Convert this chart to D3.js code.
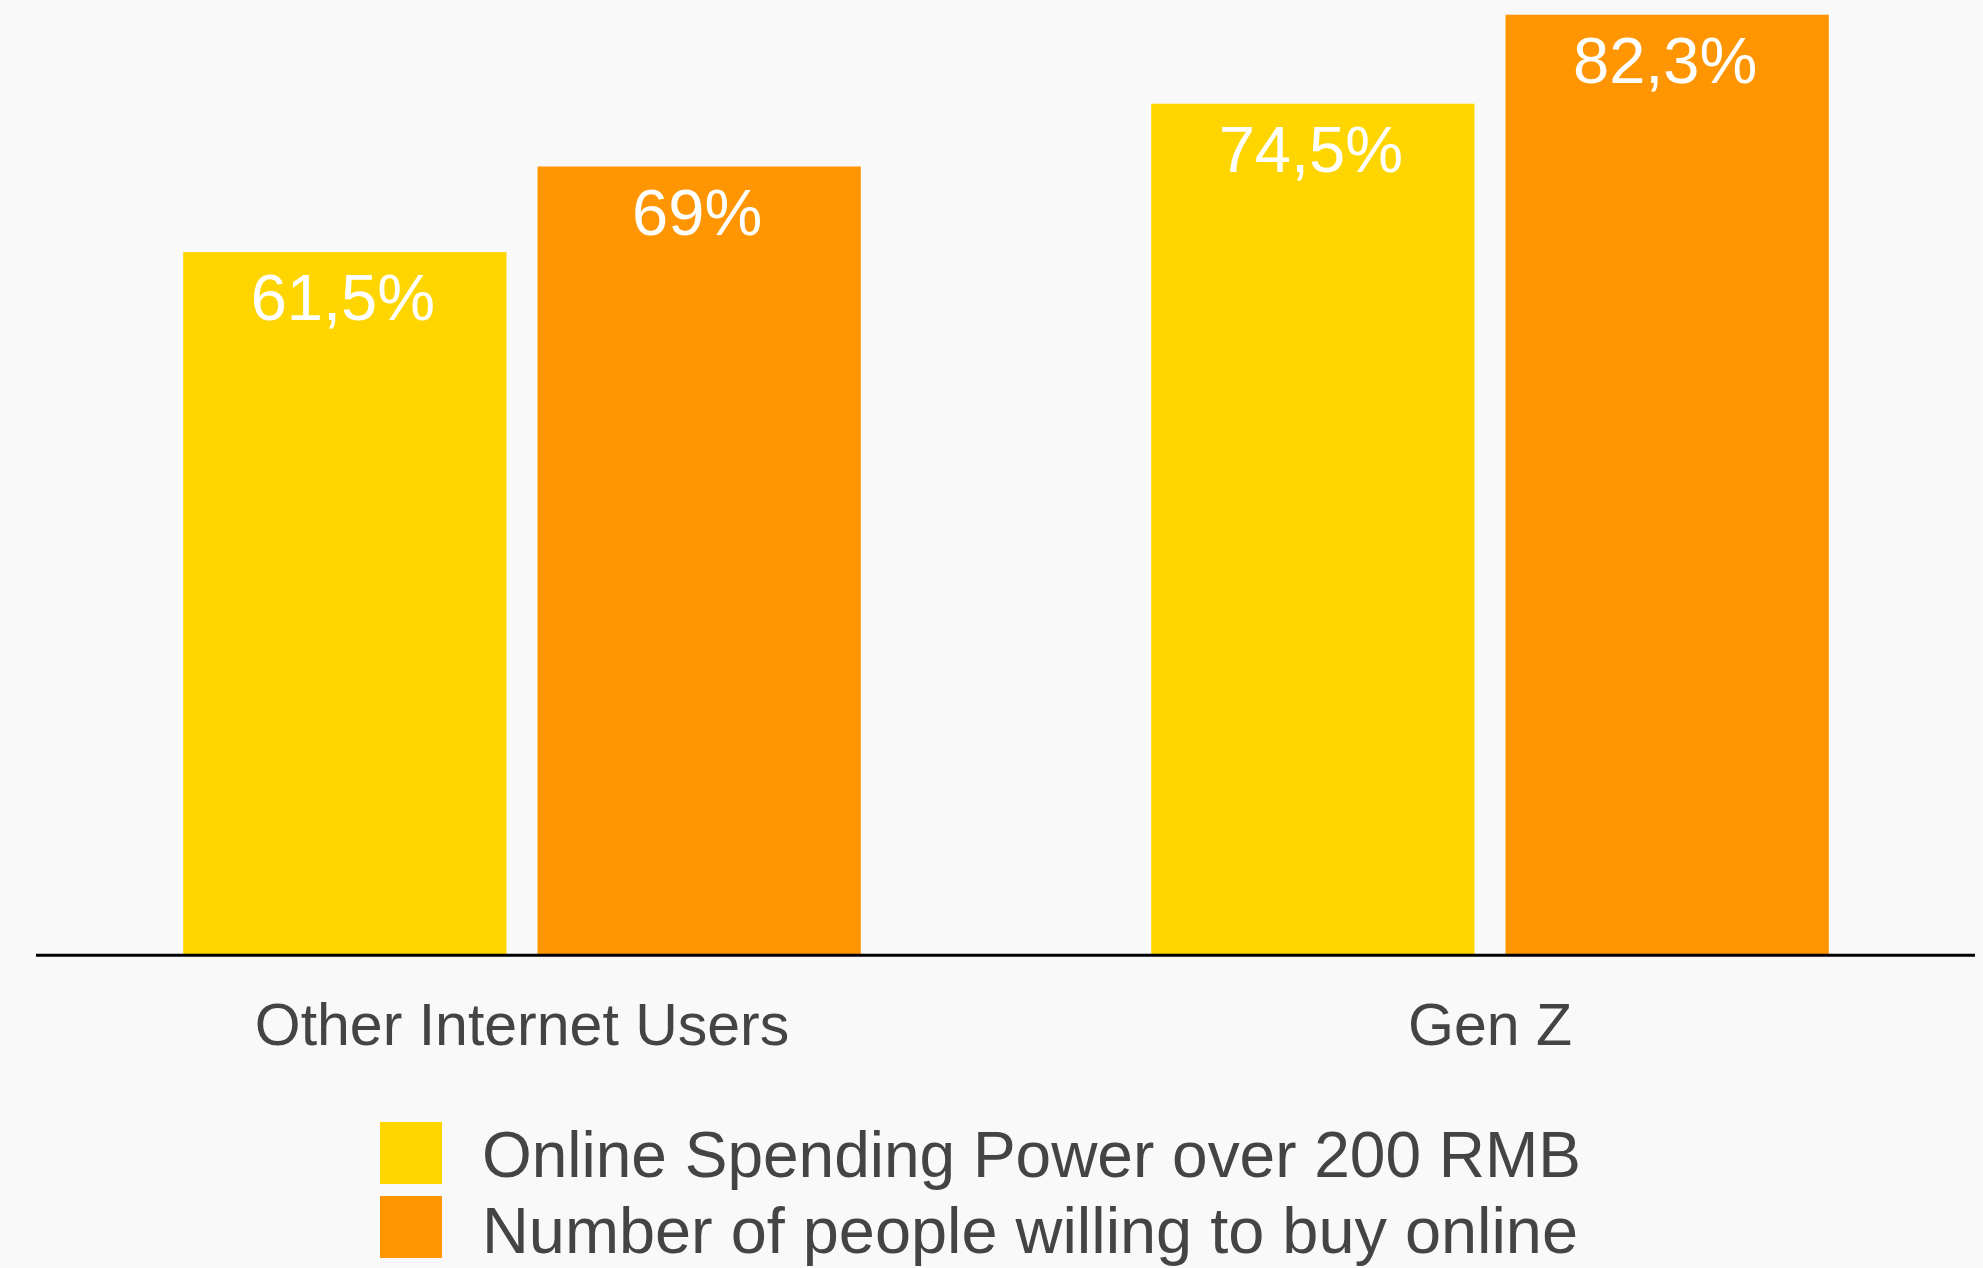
<!DOCTYPE html>
<html>
<head>
<meta charset="utf-8">
<script src="https://cdn.jsdelivr.net/npm/d3@7/dist/d3.min.js"></script>
<style>
  html, body { margin: 0; padding: 0; background: #f9f9f9; }
  svg { display: block; }
</style>
</head>
<body>
<script>
const categories = ["Other Internet Users", "Gen Z"];
const seriesNames = ["Online Spending Power over 200 RMB", "Number of people willing to buy online"];
const spendingPower = [61.5, 74.5];
const willingToBuy = [69, 82.3];
const valueLabels = [["61,5%", "74,5%"], ["69%", "82,3%"]];
const seriesColors = ["#FFD500", "#FF9500"];

const W = 1983, H = 1268;
const svg = d3.select("body").append("svg").attr("width", W).attr("height", H);
svg.append("rect").attr("width", W).attr("height", H).attr("fill", "#f9f9f9");

const font = "'Liberation Sans', Arial, Helvetica, sans-serif";
const baseY = 954;

const x0 = d3.scaleBand().domain(categories).range([38, 1974]).paddingInner(0.3).paddingOuter(0.15);
const x1 = d3.scaleBand().domain(d3.range(seriesNames.length)).range([0, x0.bandwidth()]).paddingInner(0.0876).paddingOuter(0);
const y = d3.scaleLinear().domain([0, 100]).range([baseY, baseY - 1141.3]);

const seriesValues = [spendingPower, willingToBuy];
const data = [];
categories.forEach((c, ci) => {
  seriesValues.forEach((vals, si) => {
    data.push({ cat: c, s: si, v: vals[ci], label: valueLabels[si][ci] });
  });
});

const g = svg.append("g");
g.selectAll("rect.bar").data(data).enter().append("rect")
  .attr("class", "bar")
  .attr("x", d => x0(d.cat) + x1(d.s))
  .attr("y", d => y(d.v))
  .attr("width", x1.bandwidth())
  .attr("height", d => y(0) - y(d.v))
  .attr("fill", d => seriesColors[d.s]);

g.selectAll("text.val").data(data).enter().append("text")
  .attr("class", "val")
  .attr("x", d => x0(d.cat) + x1(d.s) + x1.bandwidth() / 2 - 2)
  .attr("y", d => y(d.v) + 68)
  .attr("text-anchor", "middle")
  .attr("font-family", font)
  .attr("font-size", 65)
  .attr("fill", "#ffffff")
  .text(d => d.label);

// x axis baseline
const xAxis = d3.axisBottom(x0).tickSize(0).tickPadding(0);
const axisG = svg.append("g").attr("transform", `translate(0,${baseY + 1.3})`).call(xAxis);
axisG.select(".domain").attr("d", "M36,0H1975").attr("stroke", "#000").attr("stroke-width", 3);
axisG.selectAll(".tick text")
  .attr("y", 1045 - baseY - 1.3)
  .attr("dy", 0)
  .attr("font-family", font)
  .attr("font-size", 59)
  .attr("fill", "#444444");

// legend
const legend = svg.append("g");
const legendWidths = [1099, 1096];
seriesNames.forEach((name, i) => {
  legend.append("rect")
    .attr("x", 380).attr("y", 1122 + i * 74)
    .attr("width", 62).attr("height", 62)
    .attr("fill", seriesColors[i]);
  legend.append("text")
    .attr("x", 482).attr("y", 1177 + i * 76)
    .attr("font-family", font)
    .attr("font-size", 64)
    .attr("fill", "#444444")
    .attr("textLength", legendWidths[i])
    .attr("lengthAdjust", "spacingAndGlyphs")
    .text(name);
});
</script>
</body>
</html>
